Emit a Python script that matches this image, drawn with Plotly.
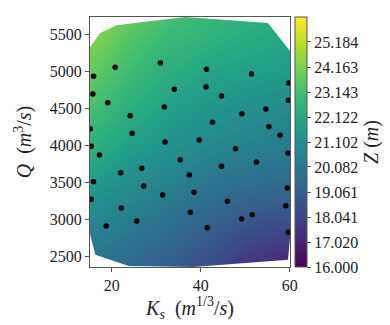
import plotly.graph_objects as go

# ---------------------------------------------------------------------------
# data
# ---------------------------------------------------------------------------
ks_grid = [15.1, 24, 33, 42, 51, 60.05]
q_grid = [2358, 3000, 3500, 4000, 4500, 5000, 5500, 5734]
# rows follow q_grid, columns follow ks_grid
z_grid = [
    [19.8, 19.5, 19.0, 18.4, 17.5, 16.9],
    [20.8, 20.3, 19.8, 19.3, 18.8, 18.6],
    [21.7, 21.0, 20.5, 20.0, 19.7, 19.5],
    [22.5, 21.8, 21.2, 20.8, 20.5, 20.3],
    [23.2, 22.4, 21.8, 21.4, 21.1, 20.9],
    [23.8, 23.0, 22.4, 22.0, 21.8, 21.6],
    [24.4, 23.5, 22.9, 22.6, 22.3, 22.1],
    [24.7, 23.8, 23.2, 22.8, 22.5, 22.3],
]

# outline of the triangulated domain (clockwise)
hull_ks = [15.1, 17.4, 21.05, 36.5, 55.1, 60.05, 60.05, 59.6, 38.3, 23.8, 16.3, 15.1]
hull_q = [5324, 5518, 5621, 5734, 5653, 5275, 2750, 2457, 2358, 2372, 2525, 2804]

# sample points
pts_ks = [20.76, 30.92, 41.3, 51.39, 15.9, 59.78, 34.06, 41.17, 15.74, 44.66,
          19.1, 59.69, 31.82, 54.62, 24.13, 49.24, 42.65, 55.29, 15.16, 24.57,
          57.83, 39.66, 31.97, 15.38, 59.62, 17.24, 47.8, 35.4, 52.51, 44.66,
          26.73, 22.02, 37.42, 15.9, 27.17, 59.46, 38.48, 31.43, 15.38, 46.0,
          59.1, 22.17, 37.65, 51.55, 49.15, 25.61, 18.74, 41.46, 59.69]
pts_q = [5054, 5113, 5027, 4964, 4933, 4843, 4757, 4789, 4694, 4667,
         4577, 4609, 4519, 4492, 4401, 4428, 4312, 4253, 4226, 4164,
         4137, 4073, 4046, 3988, 3898, 3871, 3956, 3807, 3776, 3718,
         3691, 3632, 3601, 3510, 3452, 3425, 3367, 3331, 3272, 3245,
         3186, 3155, 3097, 3065, 3007, 2980, 2912, 2889, 2827]

cbar_ticks = [16.000, 17.020, 18.041, 19.061, 20.082, 21.102, 22.122, 23.143, 24.163, 25.184]
z_min, z_max = 16.0, 26.204

x_range = [15.1, 60.05]
y_range = [2358, 5734]
x_ticks = [20, 40, 60]
y_ticks = [2500, 3000, 3500, 4000, 4500, 5000, 5500]

FONT = "Liberation Serif"
FRAME = "#555555"
TEXT = "#222222"

fig = go.Figure()

fig.add_trace(go.Contour(
    x=ks_grid, y=q_grid, z=z_grid,
    colorscale="Viridis", zmin=z_min, zmax=z_max, zauto=False,
    autocontour=False,
    contours=dict(start=z_min, end=z_max, size=0.12, coloring="fill"),
    line=dict(width=0),
    hoverinfo="skip",
    colorbar=dict(
        x=1.025, xanchor="left", y=0.5, yanchor="middle",
        len=1.0, lenmode="fraction", thickness=12, xpad=0, ypad=0,
        outlinewidth=1, outlinecolor=FRAME,
        tickmode="array", tickvals=cbar_ticks,
        ticktext=[f"{v:.3f}" for v in cbar_ticks],
        ticks="outside", ticklen=4, tickcolor=FRAME,
        tickfont=dict(family=FONT, size=16, color=TEXT),
        title=dict(text="<i>Z</i> (<i>m</i>)", side="right",
                   font=dict(family=FONT, size=20, color=TEXT)),
    ),
))

# white mask outside the domain: outer box counter-clockwise, hull clockwise
box_x = [x_range[0], x_range[0], x_range[1], x_range[1], x_range[0]]
box_y = [y_range[1], y_range[0], y_range[0], y_range[1], y_range[1]]
mask_x = box_x + hull_ks + [hull_ks[0], x_range[0]]
mask_y = box_y + hull_q + [hull_q[0], y_range[1]]
fig.add_trace(go.Scatter(
    x=mask_x, y=mask_y, mode="lines", fill="toself",
    fillcolor="white", line=dict(width=0, color="white"),
    hoverinfo="skip", showlegend=False,
))

fig.add_trace(go.Scatter(
    x=pts_ks, y=pts_q, mode="markers",
    marker=dict(color="black", size=5.5),
    hoverinfo="skip", showlegend=False,
))

axis_common = dict(
    showgrid=False, zeroline=False, showline=True, mirror=True,
    linecolor=FRAME, linewidth=1, ticks="outside", ticklen=4,
    tickcolor=FRAME, tickfont=dict(family=FONT, size=16, color=TEXT),
    automargin=False,
)
fig.update_xaxes(
    range=x_range, tickvals=x_ticks,
    title=dict(text="<i>K<sub>s</sub></i>  (<i>m</i><sup>1/3</sup>/<i>s</i>)",
               font=dict(family=FONT, size=20, color=TEXT), standoff=2),
    **axis_common,
)
fig.update_yaxes(
    range=y_range, tickvals=y_ticks,
    title=dict(text="<i>Q</i>  (<i>m</i><sup>3</sup>/<i>s</i>)",
               font=dict(family=FONT, size=20, color=TEXT), standoff=12),
    **axis_common,
)

fig.update_layout(
    width=390, height=325,
    margin=dict(l=82, r=108, t=9, b=66, autoexpand=False),
    paper_bgcolor="white", plot_bgcolor="white",
    showlegend=False,
)

fig.write_html("out.html")
